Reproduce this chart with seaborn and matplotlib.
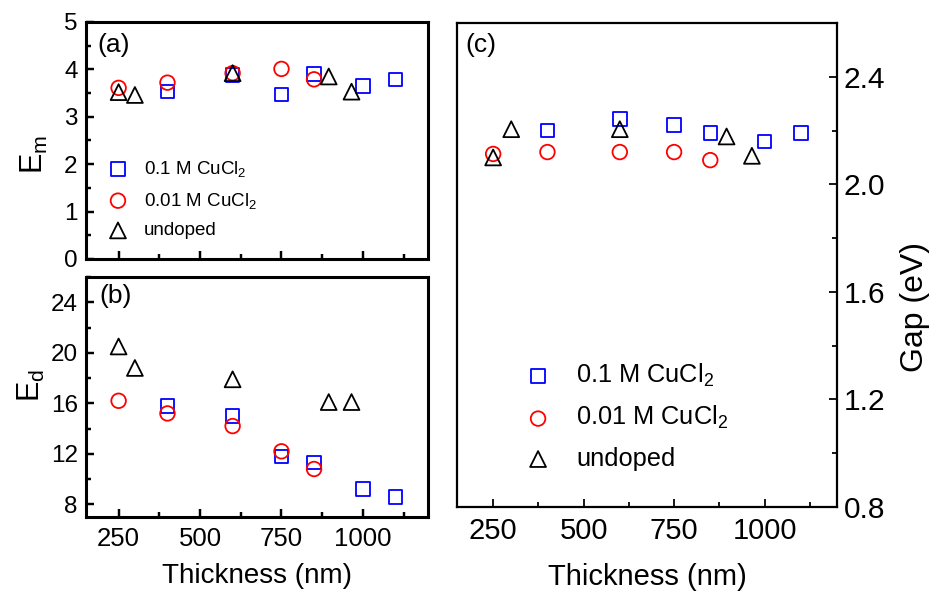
import pandas as pd
import seaborn as sns
import matplotlib.pyplot as plt
from matplotlib.ticker import MultipleLocator

# thickness (nm) of each series
x_01 = [400, 600, 750, 850, 1000, 1100]
x_001 = [250, 400, 600, 750, 850]
x_und = [250, 300, 600, 895, 965]

# (a) E_m
em_01 = [3.53, 3.88, 3.47, 3.90, 3.65, 3.79]
em_001 = [3.61, 3.72, 3.92, 4.01, 3.79]
em_und = [3.52, 3.46, 3.92, 3.85, 3.53]

# (b) E_d
ed_01 = [15.8, 15.0, 11.8, 11.3, 9.2, 8.6]
ed_001 = [16.2, 15.2, 14.2, 12.2, 10.8]
ed_und = [20.5, 18.8, 17.9, 16.1, 16.1]

# (c) Gap (eV)
gap_01 = [2.20, 2.243, 2.221, 2.19, 2.16, 2.19]
gap_001 = [2.113, 2.12, 2.12, 2.12, 2.09]
gap_und = [2.10, 2.205, 2.205, 2.178, 2.106]

labels = ['0.1 M CuCl$_2$', '0.01 M CuCl$_2$', 'undoped']
colores = ['#0000ff', '#ff0000', '#000000']
marcadores = ['s', 'o', '^']
tamanos = [95, 110, 130]

sns.set_style('ticks')
plt.rcParams['font.family'] = ['Liberation Sans', 'DejaVu Sans']
plt.rcParams['mathtext.fontset'] = 'custom'
plt.rcParams['mathtext.rm'] = 'Liberation Sans'
plt.rcParams['mathtext.it'] = 'Liberation Sans'
plt.rcParams['text.color'] = 'black'
plt.rcParams['axes.labelcolor'] = 'black'
plt.rcParams['xtick.color'] = 'black'
plt.rcParams['ytick.color'] = 'black'


def puntos(ax, xs, ys):
    for x, y, lab, col, mk, s in zip(xs, ys, labels, colores, marcadores, tamanos):
        df = pd.DataFrame({'Thickness': x, 'valor': y})
        sns.scatterplot(data=df, x='Thickness', y='valor', ax=ax, marker=mk, s=s,
                        color=col, facecolor='none', edgecolor=col,
                        linewidth=1.3, label=lab, zorder=3)


def ejes(ax, ancho, lsize_x, lsize_y):
    for sp in ax.spines.values():
        sp.set_linewidth(ancho)
        sp.set_color('black')
    ax.set_xlim(150, 1200)
    ax.xaxis.set_major_locator(MultipleLocator(250))
    ax.xaxis.set_minor_locator(MultipleLocator(125))
    ax.tick_params(which='major', direction='in', length=6, width=ancho * 0.8)
    ax.tick_params(which='minor', direction='in', length=3.5, width=ancho * 0.8)
    ax.tick_params(axis='x', labelsize=lsize_x, pad=7)
    ax.tick_params(axis='y', labelsize=lsize_y, pad=6)


fig = plt.figure(figsize=(9.32, 5.91), dpi=100)
ax_a = fig.add_axes([0.0923, 0.5618, 0.3670, 0.4010])
ax_b = fig.add_axes([0.0923, 0.1252, 0.3670, 0.4061])
ax_c = fig.add_axes([0.4903, 0.1421, 0.4077, 0.8190])

# (a)
puntos(ax_a, [x_01, x_001, x_und], [em_01, em_001, em_und])
ejes(ax_a, 2.2, 18.5, 17.5)
ax_a.set_ylim(0, 5)
ax_a.yaxis.set_major_locator(MultipleLocator(1))
ax_a.yaxis.set_minor_locator(MultipleLocator(0.5))
ax_a.set_xticklabels([])
ax_a.set_xlabel('')
ax_a.set_ylabel('$\\mathregular{E_m}$', fontsize=22)
ax_a.yaxis.set_label_coords(-0.105, 0.44)
ax_a.text(0.032, 0.955, '(a)', transform=ax_a.transAxes, fontsize=19,
          ha='left', va='top')
ax_a.legend(loc='upper left', bbox_to_anchor=(0.066, 0.422), frameon=False,
            fontsize=13.5, handlelength=1.0, handletextpad=0.9, labelspacing=0.62,
            borderpad=0, borderaxespad=0)

# (b)
puntos(ax_b, [x_01, x_001, x_und], [ed_01, ed_001, ed_und])
ejes(ax_b, 2.2, 18.5, 17.5)
ax_b.set_ylim(7, 26)
ax_b.yaxis.set_major_locator(MultipleLocator(4))
ax_b.yaxis.set_minor_locator(MultipleLocator(2))
ax_b.set_xlabel('Thickness (nm)', fontsize=20)
ax_b.xaxis.set_label_coords(0.5, -0.19)
ax_b.set_ylabel('$\\mathregular{E_d}$', fontsize=22)
ax_b.yaxis.set_label_coords(-0.114, 0.55)
ax_b.text(0.038, 0.97, '(b)', transform=ax_b.transAxes, fontsize=19,
          ha='left', va='top')
ax_b.get_legend().remove()

# (c)
puntos(ax_c, [x_01, x_001, x_und], [gap_01, gap_001, gap_und])
ejes(ax_c, 1.6, 21, 21.5)
ax_c.set_ylim(0.8, 2.6)
ax_c.yaxis.set_major_locator(MultipleLocator(0.4))
ax_c.yaxis.set_minor_locator(MultipleLocator(0.2))
ax_c.yaxis.tick_right()
ax_c.yaxis.set_label_position('right')
ax_c.tick_params(axis='y', which='both', left=False, right=True, pad=5)
ax_c.set_xlabel('Thickness (nm)', fontsize=21)
ax_c.xaxis.set_label_coords(0.5, -0.115)
ax_c.set_ylabel('Gap (eV)', fontsize=23)
ax_c.yaxis.set_label_coords(1.165, 0.413)
ax_c.text(0.021, 0.98, '(c)', transform=ax_c.transAxes, fontsize=19,
          ha='left', va='top')
ax_c.legend(loc='upper left', bbox_to_anchor=(0.18, 0.30), frameon=False,
            fontsize=18.3, handlelength=1.0, handletextpad=1.0, labelspacing=0.6,
            borderpad=0, borderaxespad=0)

fig.savefig('out.png', dpi=100)
